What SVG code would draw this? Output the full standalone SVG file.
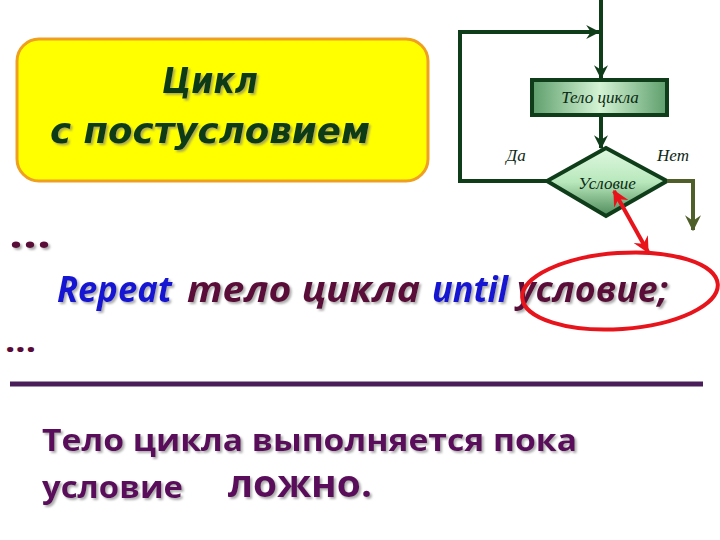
<svg xmlns="http://www.w3.org/2000/svg" width="720" height="540" viewBox="0 0 720 540">
<style>
.title{font-family:"DejaVu Sans",sans-serif;font-weight:bold;font-style:italic;font-size:36px;fill:#0c3a18}
.fc{font-family:"Liberation Serif",serif;font-style:italic;font-size:17px;fill:#0c2a14}
.code{font-family:"Open Sans","DejaVu Sans",sans-serif;font-weight:bold;font-style:italic;font-size:36px}
.kw{fill:#1414d2}
.mr{fill:#5a0a38}
.note{font-family:"Open Sans","Liberation Sans",sans-serif;font-weight:bold;fill:#5a0a5a}
.wire{fill:none;stroke:#0f3d1a;stroke-width:4}
</style>
<defs>
<filter id="sh" x="-10%" y="-20%" width="120%" height="150%">
<feDropShadow dx="2" dy="2" stdDeviation="1.2" flood-color="#777" flood-opacity="0.6"/>
</filter>
<linearGradient id="gBox" x1="0" y1="0" x2="1" y2="0">
<stop offset="0" stop-color="#5e9e6c"/>
<stop offset="0.5" stop-color="#d4f4d4"/>
<stop offset="1" stop-color="#5e9e6c"/>
</linearGradient>
<linearGradient id="gDia" x1="0" y1="0" x2="0" y2="1">
<stop offset="0" stop-color="#e0f8e0"/>
<stop offset="0.5" stop-color="#b8e8bc"/>
<stop offset="1" stop-color="#4f8a5a"/>
</linearGradient>
<marker id="aG" viewBox="0 0 12 12" refX="11" refY="6" markerWidth="14" markerHeight="14" markerUnits="userSpaceOnUse" orient="auto">
<path d="M0,0 L12,6 L0,12 L4,6 Z" fill="#0f3d1a"/>
</marker>
<marker id="aO" viewBox="0 0 12 12" refX="11" refY="6" markerWidth="16" markerHeight="16" markerUnits="userSpaceOnUse" orient="auto">
<path d="M0,0 L12,6 L0,12 L4,6 Z" fill="#4f5f2a"/>
</marker>
<marker id="aR" viewBox="0 0 12 12" refX="11" refY="6" markerWidth="16" markerHeight="16" markerUnits="userSpaceOnUse" orient="auto-start-reverse">
<path d="M0,0 L12,6 L0,12 L4,6 Z" fill="#e8141c"/>
</marker>
</defs>
<rect width="720" height="540" fill="#ffffff"/>

<g id="title">
<rect x="17" y="39" width="411" height="142" rx="22" fill="#ffff00" stroke="#f0a020" stroke-width="3"/>
<text class="title" x="210" y="93" text-anchor="middle" filter="url(#sh)" textLength="96" lengthAdjust="spacingAndGlyphs">Цикл</text>
<text class="title" x="210" y="143" text-anchor="middle" filter="url(#sh)" textLength="320" lengthAdjust="spacingAndGlyphs">с  постусловием</text>
</g>

<g id="body">
<rect x="532" y="80" width="135" height="35" fill="url(#gBox)" stroke="#0f3d1a" stroke-width="4"/>
<text class="fc" x="600" y="103" text-anchor="middle">Тело цикла</text>
</g>

<g id="cond">
<polygon points="606,148 667,181 606,216 547,181" fill="url(#gDia)" stroke="#0f3d1a" stroke-width="4"/>
<text class="fc" x="607" y="189" text-anchor="middle">Условие</text>
</g>

<g id="labels">
<text class="fc" x="516" y="161" text-anchor="middle">Да</text>
<text class="fc" x="673" y="161" text-anchor="middle">Нет</text>
</g>

<g id="code">
<text class="mr" x="9" y="248" font-family="'Open Sans',sans-serif" font-weight="bold" font-size="40" filter="url(#sh)" textLength="42" lengthAdjust="spacingAndGlyphs">...</text>
<text class="code" y="302" filter="url(#sh)">
<tspan class="kw" x="57" textLength="115" lengthAdjust="spacingAndGlyphs">Repeat</tspan>
<tspan class="mr" x="187" textLength="233" lengthAdjust="spacingAndGlyphs">тело цикла</tspan>
<tspan class="kw" x="432" textLength="76" lengthAdjust="spacingAndGlyphs">until</tspan>
<tspan class="mr" x="517" textLength="151" lengthAdjust="spacingAndGlyphs">условие;</tspan>
</text>
<text class="mr" x="5" y="352" font-family="'Open Sans',sans-serif" font-weight="bold" font-size="30" textLength="31" lengthAdjust="spacingAndGlyphs">...</text>
<ellipse cx="620" cy="291" rx="98" ry="38" transform="rotate(-4 620 291)" fill="none" stroke="#e8141c" stroke-width="4"/>
</g>

<line x1="10" y1="384" x2="703" y2="384" stroke="#4a1e58" stroke-width="5"/>

<g id="note" filter="url(#sh)">
<text class="note" x="42" y="451" font-size="31" textLength="535" lengthAdjust="spacingAndGlyphs">Тело цикла выполняется пока</text>
<text class="note" x="42" y="498" font-size="31" textLength="141" lengthAdjust="spacingAndGlyphs">условие</text>
<text class="note" x="228" y="497" font-size="37" textLength="144" lengthAdjust="spacingAndGlyphs">ложно.</text>
</g>

<g id="connectors">
<line class="wire" x1="601" y1="0" x2="601" y2="78" marker-end="url(#aG)"/>
<path class="wire" d="M548,181 H460 V32 H599" marker-end="url(#aG)"/>
<line class="wire" x1="601" y1="117" x2="601" y2="148" marker-end="url(#aG)"/>
<path d="M667,181 H693 V230" fill="none" stroke="#4f5f2a" stroke-width="4" marker-end="url(#aO)"/>
<line x1="614" y1="191" x2="648" y2="252" stroke="#e8141c" stroke-width="4" marker-start="url(#aR)" marker-end="url(#aR)"/>
</g>
</svg>
